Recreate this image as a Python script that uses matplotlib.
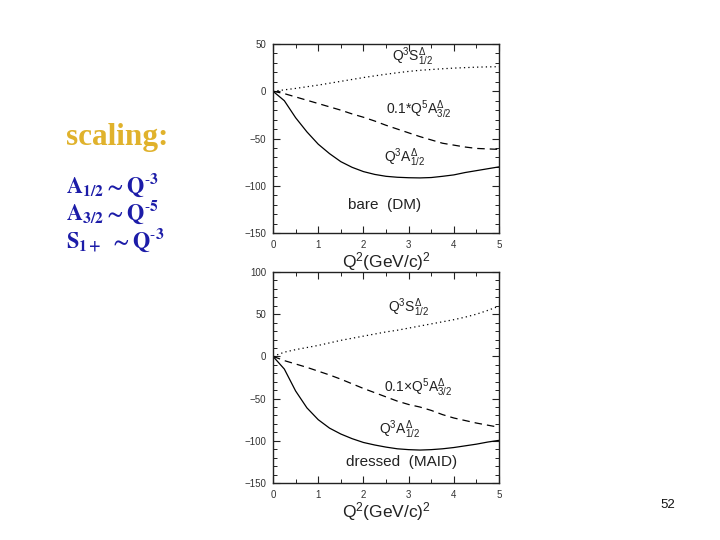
import matplotlib
matplotlib.use("Agg")
import matplotlib.pyplot as plt
from matplotlib.ticker import MultipleLocator

plt.rcParams['font.family'] = ['Liberation Sans', 'DejaVu Sans']
plt.rcParams['mathtext.fontset'] = 'custom'
plt.rcParams['mathtext.rm'] = 'Liberation Sans'
plt.rcParams['mathtext.it'] = 'Liberation Sans'
plt.rcParams['mathtext.bf'] = 'Liberation Sans:bold'

# ---------------- data ----------------
q2 = [0, 0.25, 0.5, 0.75, 1, 1.25, 1.5, 1.75, 2, 2.25, 2.5, 2.75,
      3, 3.25, 3.5, 3.75, 4, 4.25, 4.5, 4.75, 5]

# bare (DM)
bare_A12 = [0, -10, -28, -43, -56, -66, -74.5, -80.5, -85, -88, -90, -91,
            -91.5, -91.7, -91.3, -90, -88.5, -86, -84, -82, -80]
bare_A32 = [0, -2.5, -6, -9.5, -13, -16.5, -20, -24, -27.5, -31.5, -36, -40,
            -44, -48, -51.5, -55, -57, -59, -60.5, -61, -61.5]
bare_S12 = [0, 1.5, 3, 4.8, 6.5, 8.5, 10.5, 12.5, 14.5, 16.3, 18, 19.6,
            21, 22.2, 23, 23.8, 24.5, 25, 25.5, 25.8, 26]

# dressed (MAID)
dr_A12 = [0, -15, -41, -61, -75, -85, -92, -97.5, -102, -105, -107.5, -109.5,
          -110.5, -111, -110.5, -109.5, -108, -106, -104, -101.5, -99.5]
dr_A32 = [0, -5, -9, -13, -17.5, -22, -27, -32.5, -38, -43, -48, -53,
          -57, -60, -64, -69, -73, -76, -79, -81.5, -84]
dr_S12 = [0, 5, 8, 10.5, 13, 16, 19, 21.5, 24, 26.5, 29, 31,
          33.5, 36, 38.5, 41, 43.5, 46.5, 50, 54.5, 59.5]

x_ticks = [0, 1, 2, 3, 4, 5]
top_yticks = [-150, -100, -50, 0, 50]
bot_yticks = [-150, -100, -50, 0, 50, 100]

fig = plt.figure(figsize=(7.2, 5.4), dpi=100)

def style(ax, yticks, ylim):
    ax.set_xlim(0, 5)
    ax.set_ylim(*ylim)
    ax.set_xticks(x_ticks)
    ax.set_yticks(yticks)
    ax.xaxis.set_minor_locator(MultipleLocator(0.5))
    ax.yaxis.set_minor_locator(MultipleLocator(10))
    ax.tick_params(which='both', direction='in', top=True, right=True,
                   labelsize=7, colors='#222222', labelcolor='#333333')
    ax.tick_params(which='major', length=5, width=0.8, pad=5)
    ax.tick_params(which='minor', length=3, width=0.7)
    for s in ax.spines.values():
        s.set_linewidth(1.0)
        s.set_color('#222222')
    ax.set_xlabel(r'Q$^2$(GeV/c)$^2$', fontsize=12.5, labelpad=0, color='#222222')

lw = 0.9
ax1 = fig.add_axes([0.3792, 0.5685, 0.3139, 0.35])
ax1.plot(q2, bare_A12, color='black', lw=lw, ls='-')
ax1.plot(q2, bare_A32, color='black', lw=lw, ls=(0, (6, 4)))
ax1.plot(q2, bare_S12, color='black', lw=lw, ls=(0, (1, 2.5)))
style(ax1, top_yticks, (-150, 50))
ax1.text(2.63, 37, r'Q$^3$S$^{\Delta}_{1/2}$', fontsize=10, color='#222222', va='center')
ax1.text(2.5, -20, r'0.1*Q$^5$A$^{\Delta}_{3/2}$', fontsize=10, color='#222222', va='center')
ax1.text(2.45, -70, r'Q$^3$A$^{\Delta}_{1/2}$', fontsize=10, color='#222222', va='center')
ax1.text(1.65, -120, 'bare  (DM)', fontsize=11, color='#222222', va='center')

ax2 = fig.add_axes([0.3792, 0.1056, 0.3139, 0.3907])
ax2.plot(q2, dr_A12, color='black', lw=lw, ls='-')
ax2.plot(q2, dr_A32, color='black', lw=lw, ls=(0, (6, 4)))
ax2.plot(q2, dr_S12, color='black', lw=lw, ls=(0, (1, 2.5)))
style(ax2, bot_yticks, (-150, 100))
ax2.text(2.55, 58, r'Q$^3$S$^{\Delta}_{1/2}$', fontsize=10, color='#222222', va='center')
ax2.text(2.45, -37, r'0.1$\times$Q$^5$A$^{\Delta}_{3/2}$', fontsize=10, color='#222222', va='center')
ax2.text(2.35, -87, r'Q$^3$A$^{\Delta}_{1/2}$', fontsize=10, color='#222222', va='center')
ax2.text(1.62, -125, 'dressed  (MAID)', fontsize=11, color='#222222', va='center')

# left-side annotations
fig.text(66/720, 1-137/540, 'scaling:', fontsize=22.5, fontweight='bold',
         family='Liberation Serif', color='#E0B22C', va='center', ha='left')
blue = '#1c1ca8'
lines = [r'$\mathbf{A_{1/2}\sim Q^{\text{-}3}}$',
         r'$\mathbf{A_{3/2}\sim Q^{\text{-}5}}$',
         r'$\mathbf{S_{1+}\ \sim Q^{\text{-}3}}$']
ys = [185, 212, 240]
for t, y in zip(lines, ys):
    fig.text(66/720, 1-y/540, t, fontsize=16, color=blue, va='center', ha='left',
             math_fontfamily='stix')

fig.text(668/720, 1-505/540, '52', fontsize=9.5, color='#111111', ha='center', va='center')

fig.savefig('out.png', dpi=100)
